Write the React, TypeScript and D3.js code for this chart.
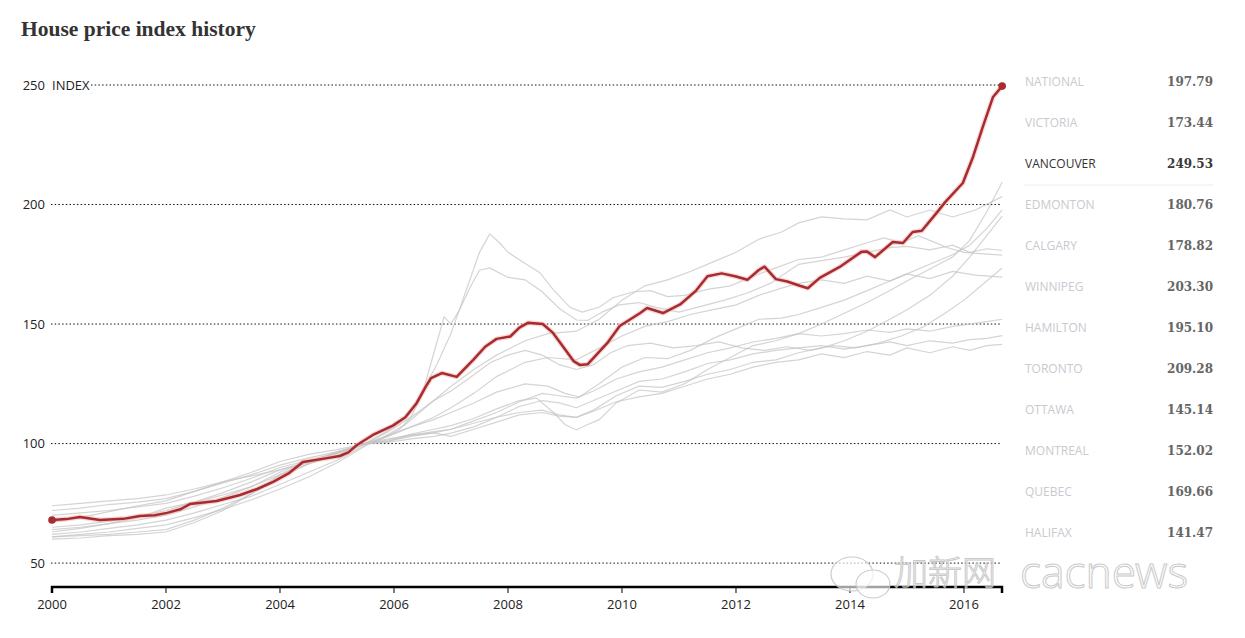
import React from "react";
import * as d3 from "d3";

type Pt = [number, number];

const title = "House price index history";
const yTicks = [50, 100, 150, 200, 250];
const xTicks = [2000, 2002, 2004, 2006, 2008, 2010, 2012, 2014, 2016];

const legendNames = ["NATIONAL", "VICTORIA", "VANCOUVER", "EDMONTON", "CALGARY", "WINNIPEG", "HAMILTON", "TORONTO", "OTTAWA", "MONTREAL", "QUEBEC", "HALIFAX"];
const legendValues = ["197.79", "173.44", "249.53", "180.76", "178.82", "203.30", "195.10", "209.28", "145.14", "152.02", "169.66", "141.47"];

const vancouver: Pt[] = [[2000.0,68.0],[2000.25,68.4],[2000.49,69.3],[2000.84,68.0],[2001.25,68.5],[2001.54,69.7],[2001.8,70.0],[2002.02,71.0],[2002.25,72.5],[2002.42,74.7],[2002.89,76.0],[2003.3,78.5],[2003.6,81.0],[2003.88,84.0],[2004.15,87.5],[2004.4,92.3],[2004.75,93.6],[2005.05,94.8],[2005.2,96.3],[2005.35,99.4],[2005.63,103.6],[2005.98,107.5],[2006.2,111.0],[2006.4,117.0],[2006.55,123.5],[2006.65,127.4],[2006.84,129.5],[2007.1,127.9],[2007.39,135.0],[2007.6,140.5],[2007.8,143.8],[2008.04,144.8],[2008.2,148.5],[2008.35,150.5],[2008.61,150.0],[2008.79,146.3],[2009.0,139.5],[2009.15,134.5],[2009.26,132.9],[2009.4,133.2],[2009.74,142.0],[2009.96,149.2],[2010.32,154.6],[2010.44,156.7],[2010.72,154.6],[2011.02,158.2],[2011.3,164.0],[2011.5,170.0],[2011.75,171.2],[2012.0,169.9],[2012.2,168.5],[2012.4,172.6],[2012.5,174.0],[2012.7,168.8],[2012.9,167.8],[2013.12,166.0],[2013.26,165.0],[2013.47,169.3],[2013.82,173.9],[2014.2,180.2],[2014.3,180.3],[2014.44,178.0],[2014.75,184.3],[2014.93,183.9],[2015.1,188.5],[2015.26,189.0],[2015.52,196.5],[2015.67,201.0],[2015.98,209.0],[2016.16,220.0],[2016.33,232.5],[2016.51,245.0],[2016.67,249.53]];

const calgary: Pt[] = [[2000,63],[2000.5,64.5],[2001,66.5],[2001.5,69],[2002,73],[2002.5,75.5],[2003,78.5],[2003.5,82],[2004,87],[2004.5,91.5],[2005,95],[2005.5,100],[2005.8,104],[2006.1,109],[2006.3,114],[2006.5,122],[2006.75,133],[2007.0,146],[2007.25,163],[2007.5,180],[2007.68,187.7],[2007.85,184],[2008.0,180],[2008.26,176],[2008.56,171.5],[2008.79,164.5],[2009.09,157],[2009.3,155],[2009.6,157],[2009.84,161],[2010.19,163.4],[2010.5,164],[2010.8,161.5],[2011.1,162],[2011.5,164.5],[2011.9,166],[2012.3,170],[2012.7,173.5],[2013.1,177],[2013.5,178],[2013.9,181],[2014.3,184],[2014.6,186],[2014.9,184],[2015.2,187],[2015.4,185],[2015.7,182],[2016.0,180],[2016.3,179.5],[2016.67,178.82]];

const edmonton: Pt[] = [[2000,62],[2000.5,63],[2001,64.5],[2001.5,66],[2002,68],[2002.5,71],[2003,74.5],[2003.5,78],[2004,83],[2004.5,88],[2005,93],[2005.5,99.5],[2005.8,102],[2006.1,106],[2006.3,111],[2006.5,121],[2006.7,138],[2006.88,153],[2007.0,150],[2007.15,156],[2007.35,166],[2007.5,172.5],[2007.68,173.5],[2008.0,169.5],[2008.3,168.5],[2008.6,163.5],[2008.9,156.5],[2009.2,151.7],[2009.4,151.5],[2009.65,155],[2009.95,158],[2010.3,159],[2010.6,157],[2011.0,155],[2011.4,157.5],[2011.8,160],[2012.2,163],[2012.6,167],[2013.1,175],[2013.5,176.5],[2013.9,178],[2014.3,180],[2014.7,182],[2015.0,182.5],[2015.4,181],[2015.8,183],[2016.1,180],[2016.4,181.5],[2016.67,180.76]];

const winnipeg: Pt[] = [[2000,61],[2000.5,62],[2001,63],[2001.5,64.5],[2002,66],[2002.5,69],[2003,72.5],[2003.5,76.5],[2004,81],[2004.5,86],[2005,92],[2005.5,99],[2005.8,102.5],[2006.2,108],[2006.6,116],[2007.0,124],[2007.4,131],[2007.8,137],[2008.3,143],[2008.7,146],[2009.2,147],[2009.6,152],[2010.0,160],[2010.4,166],[2010.8,168.5],[2011.2,172],[2011.6,176],[2012.0,180],[2012.4,185.5],[2012.8,188.5],[2013.1,192.3],[2013.5,194.8],[2013.9,194],[2014.3,193.6],[2014.7,197.7],[2015.0,194.8],[2015.4,197.7],[2015.8,194.8],[2016.2,197.7],[2016.45,200.7],[2016.67,203.3]];

const victoria: Pt[] = [[2000,64],[2000.5,65],[2001,66.5],[2001.5,68],[2002,70],[2002.5,73.5],[2003,77.5],[2003.5,82],[2004,88],[2004.5,92.5],[2005,96],[2005.5,100],[2005.9,105],[2006.3,111],[2006.7,118],[2007.0,122],[2007.3,127],[2007.7,134],[2008.0,137],[2008.3,139],[2008.6,137],[2008.9,133],[2009.2,131],[2009.5,133],[2009.8,138],[2010.1,141],[2010.5,142],[2010.9,140],[2011.3,141],[2011.7,142.5],[2012.1,140],[2012.5,139],[2012.9,140.5],[2013.3,139],[2013.7,141],[2014.1,140],[2014.5,142],[2014.9,145],[2015.3,149],[2015.7,155],[2016.0,160],[2016.3,166],[2016.67,173.44]];

const quebec: Pt[] = [[2000,61],[2000.5,61.5],[2001,62],[2001.5,63],[2002,64],[2002.5,68],[2003,73],[2003.5,79],[2004,87],[2004.5,92.5],[2005,96.5],[2005.5,100],[2005.9,103],[2006.3,107],[2006.7,111],[2007.0,115],[2007.4,121],[2007.8,128],[2008.3,134],[2008.7,136],[2009.2,135],[2009.6,140],[2010.0,145],[2010.4,149],[2010.8,151],[2011.2,154],[2011.6,156],[2012.0,158],[2012.4,162],[2012.8,165],[2013.1,167],[2013.5,168.5],[2013.9,167],[2014.3,170],[2014.7,168],[2015.0,171],[2015.4,169],[2015.8,172],[2016.2,170.5],[2016.67,169.66]];

const national: Pt[] = [[2000,70],[2000.5,71],[2001,72],[2001.5,73.5],[2002,75],[2002.5,78],[2003,81.5],[2003.5,85.5],[2004,90],[2004.5,93],[2005,96],[2005.5,100],[2005.9,103.5],[2006.3,107],[2006.7,110],[2007.0,113],[2007.4,117],[2007.8,121.5],[2008.3,125],[2008.7,124],[2009.0,121],[2009.25,119.5],[2009.6,125],[2010.0,132],[2010.4,136],[2010.8,135.5],[2011.2,139],[2011.6,144],[2012.0,148],[2012.4,152],[2012.8,152.5],[2013.1,154],[2013.5,157],[2013.9,160],[2014.3,164],[2014.7,168],[2015.0,171],[2015.4,175],[2015.8,179],[2016.1,183],[2016.4,190],[2016.67,197.79]];

const toronto: Pt[] = [[2000,72],[2000.5,73],[2001,74.5],[2001.5,75.5],[2002,77],[2002.5,80],[2003,83.5],[2003.5,87],[2004,91],[2004.5,94],[2005,96.5],[2005.5,100],[2005.9,101.5],[2006.3,104],[2006.7,106],[2007.0,107.5],[2007.4,110.5],[2007.8,114.5],[2008.2,118],[2008.5,119],[2008.8,113],[2009.0,108],[2009.2,105.7],[2009.4,108],[2009.6,110],[2009.9,117],[2010.3,122.4],[2010.7,121.5],[2011.1,125],[2011.5,131],[2011.9,136],[2012.3,141],[2012.7,143],[2013.1,146],[2013.5,150],[2013.9,154.5],[2014.3,159],[2014.7,164],[2015.0,168],[2015.4,173],[2015.8,178],[2016.1,185],[2016.4,197],[2016.67,209.28]];

const hamilton: Pt[] = [[2000,65],[2000.5,66],[2001,67.5],[2001.5,69.5],[2002,72],[2002.5,75.5],[2003,79.5],[2003.5,84],[2004,89],[2004.5,92],[2005,95],[2005.5,100],[2005.9,101],[2006.3,103.5],[2006.7,105],[2007.0,106],[2007.4,108.5],[2007.8,111],[2008.2,113],[2008.6,114],[2008.9,112],[2009.2,111],[2009.5,114],[2009.9,120],[2010.3,124],[2010.7,123.5],[2011.1,126],[2011.5,129],[2011.9,131],[2012.3,134],[2012.7,135],[2013.1,138],[2013.5,140],[2013.9,143],[2014.3,147],[2014.7,152],[2015.0,156],[2015.4,162],[2015.8,170],[2016.1,178],[2016.4,187],[2016.67,195.1]];

const ottawa: Pt[] = [[2000,67],[2000.5,69],[2001,71.5],[2001.5,74],[2002,76],[2002.5,80],[2003,84],[2003.5,88],[2004,92.5],[2004.5,95.5],[2005,97.5],[2005.5,100],[2005.9,100.5],[2006.3,102],[2006.7,103],[2007.0,104.4],[2007.4,107],[2007.8,111],[2008.2,115.5],[2008.6,118],[2008.9,117],[2009.2,115],[2009.5,118],[2009.9,122],[2010.3,126],[2010.7,127],[2011.1,130],[2011.5,133.5],[2011.9,135],[2012.3,137.5],[2012.7,139],[2013.1,140],[2013.5,141],[2013.9,139.5],[2014.3,141],[2014.7,142.5],[2015.0,141],[2015.4,143],[2015.8,142],[2016.1,143.5],[2016.4,144],[2016.67,145.14]];

const montreal: Pt[] = [[2000,60],[2000.5,60.5],[2001,61.5],[2001.5,62],[2002,63],[2002.5,67],[2003,72],[2003.5,79],[2004,86],[2004.5,91.5],[2005,96],[2005.5,100],[2005.9,101],[2006.3,103],[2006.7,104.5],[2007.0,106],[2007.4,109.5],[2007.8,113],[2008.2,117.5],[2008.6,121],[2008.9,120],[2009.2,119],[2009.5,122],[2009.9,127],[2010.3,130],[2010.7,132],[2011.1,135],[2011.5,138],[2011.9,140],[2012.3,142.5],[2012.7,144],[2013.1,146],[2013.5,145],[2013.9,146],[2014.3,147.5],[2014.7,146.5],[2015.0,148],[2015.4,147],[2015.8,149],[2016.1,150],[2016.4,151],[2016.67,152.02]];

const halifax: Pt[] = [[2000,74],[2000.5,75],[2001,76],[2001.5,77],[2002,78.5],[2002.5,81],[2003,84],[2003.5,86.5],[2004,89],[2004.5,92.5],[2005,96],[2005.5,100],[2005.9,102],[2006.3,103.5],[2006.7,104.5],[2007.0,103],[2007.4,106],[2007.8,109],[2008.2,112],[2008.6,113],[2008.9,111.5],[2009.2,111],[2009.5,113.5],[2009.9,117.5],[2010.3,119.5],[2010.7,121],[2011.1,124],[2011.5,127],[2011.9,129],[2012.3,132],[2012.7,134],[2013.1,135],[2013.5,137.5],[2013.9,136],[2014.3,138.5],[2014.7,137],[2015.0,140],[2015.4,138],[2015.8,140.5],[2016.1,139],[2016.4,141],[2016.67,141.47]];

const greySeries: Pt[][] = [national, victoria, edmonton, calgary, winnipeg, hamilton, toronto, ottawa, montreal, quebec, halifax];

const W = 1245;
const H = 638;

export default function App() {
  const x = d3.scaleLinear().domain([2000, 2016.667]).range([52, 1002]);
  const y = d3.scaleLinear().domain([40, 250]).range([587, 85]);
  const line = d3.line<Pt>().x((d) => x(d[0])).y((d) => y(d[1])).curve(d3.curveLinear);

  const sans = "'Open Sans', 'DejaVu Sans', sans-serif";
  const serif = "'DejaVu Serif', serif";
  const first = vancouver[0];
  const last = vancouver[vancouver.length - 1];
  const axisPath = `M${x(2000)},593V${y(40)}H${x(2016.667)}V593`;

  return (
    <svg width={W} height={H} style={{ position: "absolute", left: 0, top: 0, background: "#fff" }}>
      <rect x={0} y={0} width={W} height={H} fill="#fff" />
      <text x={21} y={36} fontFamily="'Liberation Serif', serif" fontWeight="bold" fontSize={21.5} fill="#333">{title}</text>

      {yTicks.map((t) => (
        <g key={t}>
          <line x1={t === 250 ? 91 : 51} x2={1000} y1={y(t)} y2={y(t)} stroke="#111" strokeWidth={1} strokeDasharray="1.5,2.2" />
          <text x={45} y={y(t)} dy="0.35em" textAnchor="end" fontFamily={sans} fontSize={13} fill="#222">{t}</text>
          {t === 250 && (
            <text x={52} y={y(t)} dy="0.35em" fontFamily={sans} fontSize={13} fill="#222">INDEX</text>
          )}
        </g>
      ))}

      {greySeries.map((s, i) => (
        <path key={i} d={line(s) || ""} fill="none" stroke="#c4c4c4" strokeOpacity={0.72} strokeWidth={1.2} />
      ))}

      <path d={line(vancouver) || ""} fill="none" stroke="#f2b8b8" strokeOpacity={0.55} strokeWidth={5} strokeLinejoin="round" />
      <path d={line(vancouver) || ""} fill="none" stroke="#a72c2f" strokeWidth={2.5} strokeLinejoin="round" />
      <circle cx={x(first[0])} cy={y(first[1])} r={3.8} fill="#a72c2f" />
      <circle cx={x(last[0])} cy={y(last[1])} r={3.8} fill="#a72c2f" />

      <path d={axisPath} fill="none" stroke="#000" strokeWidth={2.5} />
      {xTicks.map((t) => (
        <g key={t}>
          <line x1={x(t)} x2={x(t)} y1={y(40)} y2={593} stroke="#000" strokeWidth={1} />
          <text x={x(t)} y={609} textAnchor="middle" fontFamily={sans} fontSize={13} fill="#222">{t}</text>
        </g>
      ))}

      {legendNames.map((n, i) => {
        const cy = 82 + i * 41;
        const hl = n === "VANCOUVER";
        return (
          <g key={n}>
            <text x={1025} y={cy} dy="0.35em" fontFamily={sans} fontSize={12} fill={hl ? "#333" : "#c9c9cf"}>{n}</text>
            <text x={1213} y={cy} dy="0.35em" textAnchor="end" fontFamily={serif} fontWeight="bold" fontSize={12} fill={hl ? "#3a3a3a" : "#666"}>{legendValues[i]}</text>
            {hl && (
              <line x1={1024} x2={1213} y1={cy + 21} y2={cy + 21} stroke="#ececec" strokeWidth={1} />
            )}
          </g>
        );
      })}

      <g opacity={0.9}>
        <ellipse cx={852} cy={574} rx={21} ry={17} fill="rgba(255,255,255,0.7)" stroke="#c8c8c8" strokeWidth={1.2} />
        <ellipse cx={873} cy={584} rx={17} ry={14} fill="rgba(255,255,255,0.7)" stroke="#c8c8c8" strokeWidth={1.2} />
        <text x={894} y={585} fontFamily="'Noto Sans CJK SC', sans-serif" fontWeight={300} fontSize={34} fill="rgba(255,255,255,0.5)" stroke="#c4c4c4" strokeWidth={1}>加新网</text>
        <text x={1020} y={588} fontFamily="'Noto Sans', sans-serif" fontWeight={300} fontSize={44} fill="rgba(255,255,255,0.5)" stroke="#c4c4c4" strokeWidth={1}>cacnews</text>
      </g>
    </svg>
  );
}
